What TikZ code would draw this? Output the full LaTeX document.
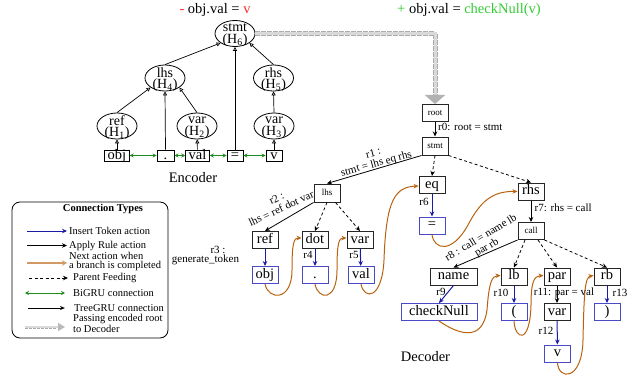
\documentclass[tikz,border=0pt]{standalone}
\usepackage{fontspec}
\setmainfont{Liberation Serif}
\usetikzlibrary{arrows.meta,shapes.geometric,calc}
\definecolor{tokblue}{HTML}{1A1AA6}
\definecolor{boxblue}{HTML}{4A4AC8}
\definecolor{nextor}{HTML}{B8620F}
\definecolor{gru}{HTML}{1E8C1E}
\definecolor{addgreen}{HTML}{33CC33}
\definecolor{delred}{HTML}{FF2A2A}
\newcommand\bigf{\fontsize{14.5}{13}\selectfont}
\newcommand\ellf{\fontsize{14}{11.5}\selectfont}
\newcommand\lblf{\fontsize{11}{11}\selectfont}
\newcommand\smf{\fontsize{9}{9}\selectfont}
\newcommand\legf{\fontsize{10.5}{9}\selectfont}
\tikzset{
  encell/.style={draw, ellipse, line width=0.8pt, minimum width=40, minimum height=26, inner sep=0pt},
  enctxt/.style={align=center, font=\ellf, inner sep=0pt, yshift=-1.5pt},
  ebox/.style={draw, line width=0.8pt, font=\bigf, inner xsep=3pt, inner ysep=0.3pt, text height=9pt, text depth=1.5pt, minimum width=16},
  dbox/.style={draw=black!85, line width=1pt, font=\bigf, minimum width=26, minimum height=17, inner sep=0pt, text height=9.5pt, text depth=3pt},
  dsm/.style={dbox, font=\smf, text height=6pt, text depth=1.5pt},
  bbox/.style={dbox, draw=boxblue},
  lbl/.style={font=\lblf, inner sep=0.5pt},
  legtxt/.style={font=\legf, anchor=west, align=left, inner sep=2pt},
  treearr/.style={-{Triangle[open,length=4pt,width=4pt]}, line width=0.7pt},
  gruarr/.style={{Stealth[length=4pt,width=4pt]}-{Stealth[length=4pt,width=4pt]}, gru, line width=0.9pt},
  tokarr/.style={-{Stealth[length=5pt,width=4.5pt]}, tokblue, line width=1pt},
  rulearr/.style={-{Stealth[length=5pt,width=4.5pt]}, black, line width=0.8pt},
  pararr/.style={rulearr, dash pattern=on 3pt off 2.5pt},
  nextarr/.style={-{Stealth[length=5pt,width=4.5pt]}, nextor, line width=1pt},
}
\begin{document}
\begin{tikzpicture}[x=1pt,y=-1pt]
\useasboundingbox (0,0) rectangle (639,377);

% ---------- titles ----------
\node[font=\bigf] (tminus) at (215,10) {\textcolor{delred}{-} obj.val = \textcolor{delred}{v}};
\node[font=\bigf] (tplus) at (469,10) {\textcolor{addgreen}{+} obj.val = \textcolor{addgreen}{checkNull(v)}};

% ---------- encoder ----------
\node[encell] (e6) at (235,33.5) {};
\node[enctxt] (e6t) at (e6) {stmt\\(H\textsubscript{6})};
\node[encell] (e4) at (165,78) {};
\node[enctxt] (e4t) at (e4) {lhs\\(H\textsubscript{4})};
\node[encell] (e5) at (273.5,78) {};
\node[enctxt] (e5t) at (e5) {rhs\\(H\textsubscript{5})};
\node[encell] (e1) at (117,126) {};
\node[enctxt] (e1t) at (e1) {ref\\(H\textsubscript{1})};
\node[encell] (e2) at (197,126) {};
\node[enctxt] (e2t) at (e2) {var\\(H\textsubscript{2})};
\node[encell] (e3) at (274,126) {};
\node[enctxt] (e3t) at (e3) {var\\(H\textsubscript{3})};

\node[ebox] (b1) at (117,155.5) {obj};
\node[ebox, minimum width=17] (b2) at (165.5,155.5) {.};
\node[ebox] (b3) at (197.5,155.5) {val};
\node[ebox] (b4) at (235,155.5) {=};
\node[ebox] (b5) at (274,155.5) {v};

\draw[treearr] (b1) -- (e1);
\draw[treearr] (b3) -- (e2);
\draw[treearr] (b5) -- (e3);
\draw[treearr] (e1.north) -- (e4.south west);
\draw[treearr] (b2.north) -- (e4.south);
\draw[treearr] (e2.north) -- (e4.south east);
\draw[treearr] (e4.north) -- (e6.south west);
\draw[treearr] (b4.north) -- (e6.south);
\draw[treearr] (e5.north) -- (e6.south east);
\draw[treearr] (e3.north) -- (e5.south);

\draw[gruarr] (b1.east) -- (b2.west);
\draw[gruarr] (b2.east) -- (b3.west);
\draw[gruarr] (b3.east) -- (b4.west);
\draw[gruarr] (b4.east) -- (b5.west);

\node[font=\bigf] (enc) at (193,178) {Encoder};

% ---------- decoder ----------
\node[dsm] (root) at (435,113) {root};
\node[dsm, minimum height=18] (dstmt) at (435,146) {stmt};
\node[dsm, minimum height=18] (dlhs) at (327,193) {lhs};
\node[dbox] (dref) at (265,240) {ref};
\node[dbox] (ddot) at (315,240) {dot};
\node[dbox] (dvar) at (360,240) {var};
\node[bbox] (dobj) at (265,275) {obj};
\node[bbox] (ddotv) at (315,275) {.};
\node[bbox] (dval) at (361,275) {val};
\node[dbox] (deq) at (432,185) {eq};
\node[bbox] (deqv) at (432,225.5) {=};
\node[dbox] (drhs) at (531,191.5) {rhs};
\node[dsm] (dcall) at (531,231) {call};
\node[dbox, minimum width=47] (dname) at (453.5,276.5) {name};
\node[dbox] (dlb) at (514,276.5) {lb};
\node[dbox] (dpar) at (557,276.5) {par};
\node[dbox] (drb) at (607,276.5) {rb};
\node[bbox, minimum width=76] (dchk) at (439,312) {checkNull};
\node[bbox] (dlp) at (514,312) {(};
\node[dbox] (dvar2) at (557,312) {var};
\node[bbox] (drp) at (607,312) {)};
\node[bbox] (dv) at (557.5,353.5) {v};

% gray passing arrow
\draw[gray!65, densely dotted, line width=5pt] (e6.east) -| ([yshift=9pt]root.north);
\draw[gray!30, line width=3pt, -{Triangle[length=9pt,width=20pt,color=gray!60]}] (e6.east) -| (root.north);

% rule arrows
\draw[rulearr] (root) -- (dstmt);
\draw[rulearr] (dstmt.south west) -- (dlhs.north);
\draw[rulearr] (dlhs.south west) -- (dref.north);
\draw[rulearr] (drhs) -- (dcall);
\draw[rulearr] (dcall.south west) -- (dname.north);
\draw[rulearr] (dpar) -- (dvar2);

% parent feeding
\draw[pararr] (dstmt.south) -- (deq.north);
\draw[pararr] (dstmt.south east) -- (drhs.north);
\draw[pararr] (dlhs.south) -- (ddot.north);
\draw[pararr] ([xshift=-5pt]dlhs.south east) -- (dvar.north);
\draw[pararr] ([xshift=-6pt]dcall.south) -- (dlb.north);
\draw[pararr] ([xshift=7pt]dcall.south) -- (dpar.north);
\draw[pararr] (dcall.south east) -- (drb.north);

% token arrows
\draw[tokarr] (dref) -- (dobj);
\draw[tokarr] (ddot) -- (ddotv);
\draw[tokarr] (dvar) -- (dval);
\draw[tokarr] (deq) -- (deqv);
\draw[tokarr] (dname.south) -- (dchk.north);
\draw[tokarr] (dlb) -- (dlp);
\draw[tokarr] (drb) -- (drp);
\draw[tokarr] (dvar2) -- (dv);

% next-action curves
\draw[nextarr] (dobj.south) .. controls (268,300) and (292,302) .. (292,270) .. controls (292,242) and (294,238) .. ([yshift=2pt]ddot.west);
\draw[nextarr] (ddotv.south) .. controls (318,300) and (337,302) .. (337,270) .. controls (337,242) and (339,238) .. ([yshift=2pt]dvar.west);
\draw[nextarr] (dval.south) .. controls (364,300) and (382,300) .. (384,260) .. controls (386,200) and (395,187) .. ([yshift=-1pt]deq.west);
\draw[nextarr] (deqv.south) .. controls (434,250) and (452,254) .. (468,225) .. controls (480,202) and (492,191) .. (drhs.west);
\draw[nextarr] (dchk.south) .. controls (455,332) and (482,345) .. (487,310) .. controls (489,282) and (492,276) .. ([yshift=1pt]dlb.west);
\draw[nextarr] (dlp.south) .. controls (515,340) and (530,345) .. (531,305) .. controls (531,282) and (534,276) .. ([yshift=1pt]dpar.west);
\draw[nextarr] (dv.south) .. controls (558,380) and (582,382) .. (583,340) .. controls (584,292) and (585,277) .. ([yshift=1pt]drb.west);

% rule labels
\node[lbl, anchor=west] (r0) at (437.5,127) {r0: root = stmt};
\node[lbl, rotate=15, align=center] (r1) at (375,159) {r1 :\\stmt = lhs eq rhs};
\node[lbl, rotate=25, align=center] (r2) at (279,203.5) {r2 :\\lhs = ref dot var};
\node[lbl] (r3a) at (218,250) {r3 :};
\node[lbl] (r3b) at (205.5,260) {generate\_token};
\node[lbl] (r4) at (308,255) {r4};
\node[lbl] (r5) at (354,255) {r5};
\node[lbl] (r6) at (424,202) {r6};
\node[lbl, anchor=west] (r7) at (534,208) {r7: rhs = call};
\node[lbl, rotate=31, align=center] (r8) at (484,243) {r8 : call = name lb\\par rb};
\node[lbl] (r9) at (441,292) {r9};
\node[lbl] (r10) at (501,293) {r10};
\node[lbl] (r11) at (564,293) {r11: par = val};
\node[lbl] (r12) at (546,331) {r12};
\node[lbl] (r13) at (620,293) {r13};

\node[font=\bigf] (dec) at (425.5,357) {Decoder};

% ---------- legend ----------
\node[draw, rounded corners=8pt, line width=0.8pt, minimum width=156, minimum height=136] (legend) at (90,270) {};
\node[font=\legf\bfseries] (lgt) at (103,209) {Connection Types};
\node[legtxt] (lt1) at (67,231) {Insert Token action};
\node[legtxt] (lt2) at (67,245.5) {Apply Rule action};
\node[legtxt] (lt3) at (67,261) {Next action when\\a branch is completed};
\node[legtxt] (lt4) at (71,278) {Parent Feeding};
\node[legtxt] (lt5) at (71,293) {BiGRU connection};
\node[legtxt] (lt6) at (72,308) {TreeGRU connection};
\node[legtxt] (lt7) at (71,323.5) {Passing encoded root\\to Decoder};
\coordinate (la1) at (27,231);
\coordinate (la2) at (27,245.5);
\coordinate (la3) at (27,263);
\coordinate (lb3) at (67,263);
\coordinate (la4) at (29,278);
\coordinate (la5) at (25,293);
\coordinate (la6) at (28,308);
\coordinate (la7) at (25,327);
\coordinate (lb7) at (65,327);
\coordinate (lc7) at (57,327);
\draw[tokarr] (la1) -- (lt1.west);
\draw[rulearr, line width=0.9pt] (la2) -- (lt2.west);
\draw[nextarr, draw=nextor!65, line width=1.8pt, -{Stealth[length=5pt,width=5.5pt]}] (la3) -- (lb3);
\draw[pararr] (la4) -- ([xshift=-3pt]lt4.west);
\draw[gruarr] (la5) -- ([xshift=-6pt]lt5.west);
\draw[rulearr, -{Stealth[length=5pt,width=4pt,open]}] (la6) -- ([xshift=-7pt]lt6.west);
\draw[gray!65, densely dotted, line width=3pt] (la7) -- (lc7);
\draw[gray!30, line width=1.5pt, -{Triangle[length=7pt,width=8pt,color=gray!55]}] (la7) -- (lb7);
\end{tikzpicture}
\end{document}
